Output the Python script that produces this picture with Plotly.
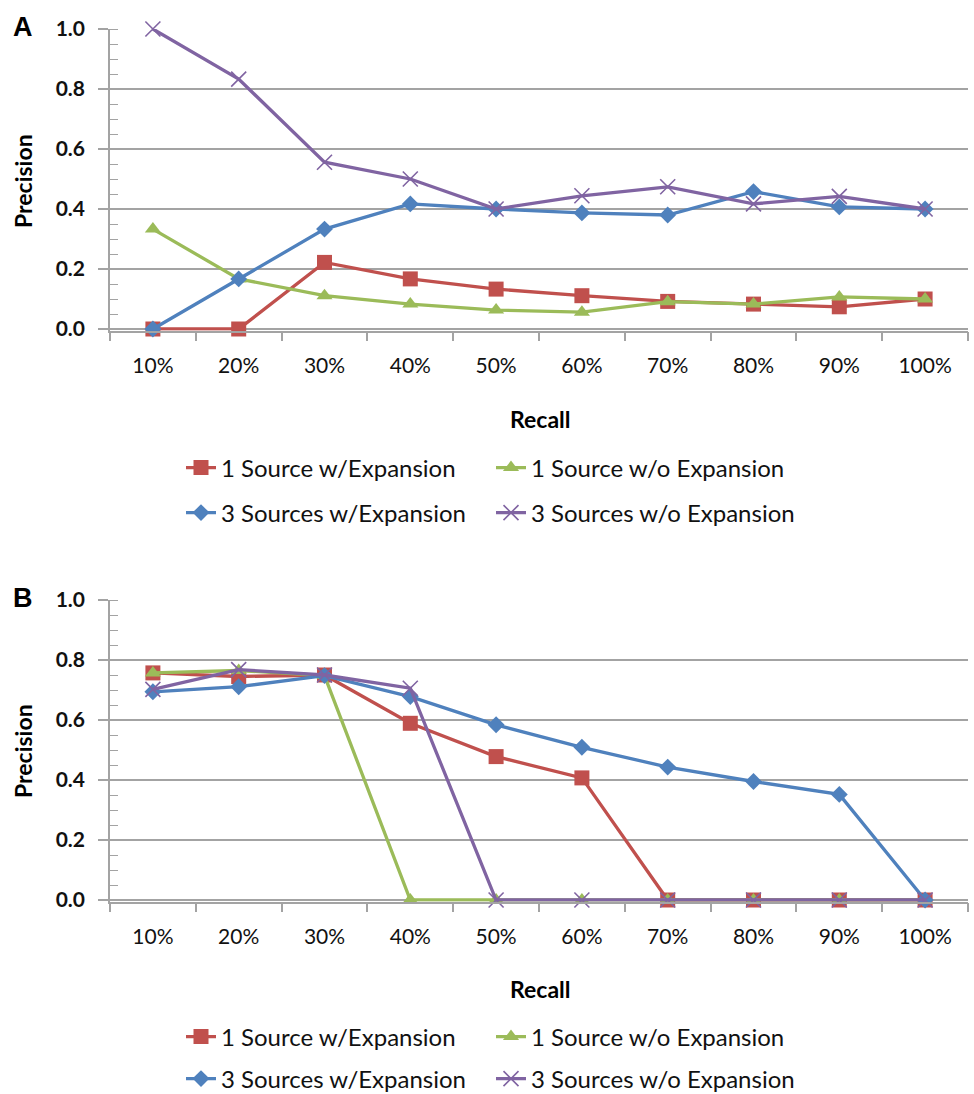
import plotly.graph_objects as go

recall = ["10%", "20%", "30%", "40%", "50%", "60%", "70%", "80%", "90%", "100%"]
series_names = ["1 Source w/Expansion", "1 Source w/o Expansion",
                "3 Sources w/Expansion", "3 Sources w/o Expansion"]

# Panel A
a_1src_exp = [0.0, 0.0, 0.222, 0.167, 0.133, 0.111, 0.092, 0.083, 0.074, 0.100]
a_1src_noexp = [0.333, 0.167, 0.111, 0.083, 0.063, 0.056, 0.091, 0.083, 0.107, 0.100]
a_3src_exp = [0.0, 0.167, 0.333, 0.417, 0.400, 0.387, 0.380, 0.458, 0.407, 0.400]
a_3src_noexp = [1.0, 0.833, 0.556, 0.500, 0.400, 0.444, 0.474, 0.417, 0.442, 0.400]

# Panel B
b_1src_exp = [0.757, 0.745, 0.750, 0.589, 0.478, 0.407, 0.0, 0.0, 0.0, 0.0]
b_1src_noexp = [0.757, 0.765, 0.748, 0.0, 0.0, 0.0, 0.0, 0.0, 0.0, 0.0]
b_3src_exp = [0.694, 0.711, 0.748, 0.678, 0.584, 0.509, 0.443, 0.395, 0.352, 0.0]
b_3src_noexp = [0.702, 0.768, 0.750, 0.706, 0.0, 0.0, 0.0, 0.0, 0.0, 0.0]

colors = ["#C0504D", "#9BBB59", "#4F81BD", "#8064A2"]
symbols = ["square", "triangle-up", "diamond", "x-thin-open"]
sizes = [15, 14, 13, 15]

W, H = 974, 1094
FONT = "Lato, 'Open Sans', sans-serif"
GRID = "#a3a3a3"


def cy(px):
    return 1 - px / H


fig = go.Figure()

panels = [
    ("", "y", [a_1src_exp, a_1src_noexp, a_3src_exp, a_3src_noexp], 1),
    ("2", "y2", [b_1src_exp, b_1src_noexp, b_3src_exp, b_3src_noexp], 5),
]
for xs, ys, data, leg0 in panels:
    for i, vals in enumerate(data):
        marker = dict(symbol=symbols[i], size=sizes[i], color=colors[i])
        if symbols[i] == "x-thin-open":
            marker["line"] = dict(color=colors[i], width=1.6)
        else:
            marker["line"] = dict(width=0)
        leg = "legend" if leg0 + i == 1 else f"legend{leg0 + i}"
        fig.add_trace(go.Scatter(
            x=recall, y=vals, name=series_names[i], mode="lines+markers",
            line=dict(color=colors[i], width=3.3), marker=marker,
            xaxis="x" + xs, yaxis=ys, legend=leg, cliponaxis=False,
        ))

yr = [-0.005, 1.0]
panel_px = [(329, 29), (900, 600)]
doms = []
for p0, p1 in panel_px:
    bottom = p0 + 0.005 * (p0 - p1)
    doms.append([cy(bottom), cy(p1)])

xaxis_common = dict(
    type="category", range=[-0.5, 9.5], tickson="boundaries",
    ticks="outside", ticklen=9, tickwidth=1.5, tickcolor=GRID,
    showline=True, linecolor=GRID, linewidth=1.5, showgrid=False,
    tickfont=dict(family=FONT, size=21, color="#111"),
    ticklabelstandoff=16, fixedrange=True, automargin=False,
)
yaxis_common = dict(
    range=yr, dtick=0.2, tick0=0, tickformat=".1f",
    ticks="outside", ticklen=10, tickwidth=1.5, tickcolor=GRID,
    showline=True, linecolor=GRID, linewidth=1.5,
    showgrid=True, gridcolor=GRID, gridwidth=1.5, zeroline=False,
    minor=dict(dtick=0.05, tick0=0, ticks="inside", ticklen=8, tickwidth=1.2,
               tickcolor=GRID, showgrid=False),
    tickfont=dict(family=FONT, size=21, color="#111", weight="bold"),
    ticklabelstandoff=9, fixedrange=True, automargin=False,
)

fig.update_layout(
    width=W, height=H,
    margin=dict(l=110, r=6, t=0, b=0, autoexpand=False),
    paper_bgcolor="white", plot_bgcolor="white",
    showlegend=True,
    xaxis=dict(anchor="y", domain=[0, 1], **xaxis_common),
    xaxis2=dict(anchor="y2", domain=[0, 1], **xaxis_common),
    yaxis=dict(anchor="x", domain=doms[0], **yaxis_common),
    yaxis2=dict(anchor="x2", domain=doms[1], **yaxis_common),
)

leg_rows = [(468, 513), (1037, 1079)]
col_x = [181, 491]
for p, (r1, r2) in enumerate(leg_rows):
    for i in range(4):
        n = p * 4 + i + 1
        key = "legend" if n == 1 else f"legend{n}"
        row_y = r1 if i in (0, 1) else r2
        col = 0 if i in (0, 2) else 1
        fig.update_layout(**{key: dict(
            xref="container", yref="container",
            x=col_x[col] / W, y=cy(row_y), xanchor="left", yanchor="middle",
            bgcolor="rgba(0,0,0,0)", borderwidth=0,
            font=dict(family=FONT, size=24, color="#111"),
            orientation="v",
        )})

annos = []
for label, ly, py, ry in [("A", 27, 181, 419), ("B", 598, 751, 989)]:
    annos.append(dict(text=label, xref="paper", yref="paper",
                      x=(23 - 110) / 858, y=cy(ly), showarrow=False,
                      xanchor="center", yanchor="middle",
                      font=dict(family="Liberation Sans, Arial, sans-serif",
                                size=27, color="#000", weight="bold")))
    annos.append(dict(text="Precision", xref="paper", yref="paper",
                      x=(23 - 110) / 858, y=cy(py), showarrow=False,
                      textangle=-90, xanchor="center", yanchor="middle",
                      font=dict(family=FONT, size=23, color="#000", weight="bold")))
    annos.append(dict(text="Recall", xref="paper", yref="paper",
                      x=(540 - 110) / 858, y=cy(ry), showarrow=False,
                      xanchor="center", yanchor="middle",
                      font=dict(family=FONT, size=23, color="#000", weight="bold")))
fig.update_layout(annotations=annos)

fig.write_html("out.html", config={"displayModeBar": False},
               post_script="document.body.style.margin='0';document.body.style.padding='0';")
